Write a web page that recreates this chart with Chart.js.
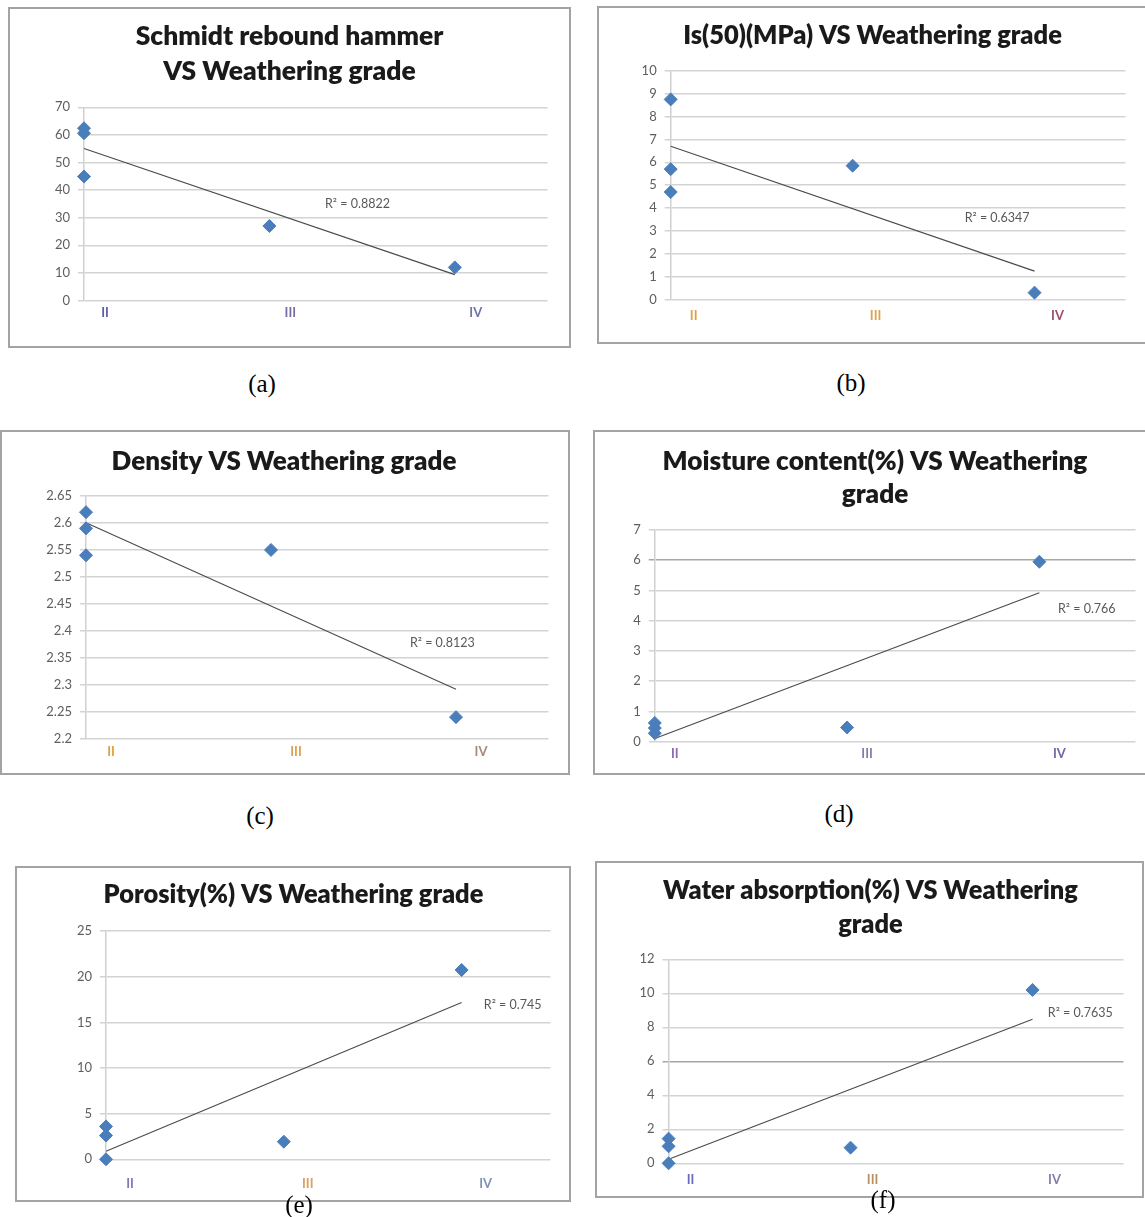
<!DOCTYPE html>
<html><head><meta charset="utf-8">
<script src="https://cdn.jsdelivr.net/npm/chart.js@4.4.1/dist/chart.umd.min.js"></script>
<style>
html,body{margin:0;padding:0;background:#fff;}
body{width:1145px;height:1217px;position:relative;overflow:hidden;}
.box{position:absolute;border:2px solid #a3a3a3;box-sizing:border-box;background:#fff;}
canvas{position:absolute;}
.cap{position:absolute;font-family:"Liberation Serif","Times New Roman",serif;font-size:25px;color:#000;transform:translate(-50%,-50%);white-space:nowrap;line-height:1;z-index:5;}
</style></head><body>
<script>
// ---------- DATA ----------
const grades = ['II', 'II', 'II', 'III', 'IV'];
const gradeTickValues = [2, 3, 4];
const gradeTickLabels = ['II', 'III', 'IV'];

const schmidtRebound = [62.4, 60.6, 44.9, 27.0, 12.0];
const is50MPa = [8.75, 5.7, 4.7, 5.85, 0.3];
const density = [2.62, 2.59, 2.54, 2.55, 2.24];
const moistureContent = [0.62, 0.45, 0.28, 0.47, 5.95];
const porosity = [3.6, 2.6, 0.0, 1.93, 20.73];
const waterAbsorption = [1.45, 1.0, 0.0, 0.92, 10.2];

const ticksSchmidt = [0, 10, 20, 30, 40, 50, 60, 70];
const ticksIs50 = [0, 1, 2, 3, 4, 5, 6, 7, 8, 9, 10];
const ticksDensity = [2.2, 2.25, 2.3, 2.35, 2.4, 2.45, 2.5, 2.55, 2.6, 2.65];
const ticksMoisture = [0, 1, 2, 3, 4, 5, 6, 7];
const ticksPorosity = [0, 5, 10, 15, 20, 25];
const ticksWater = [0, 2, 4, 6, 8, 10, 12];

const titleSchmidt = ['Schmidt rebound hammer', 'VS Weathering grade'];
const titleIs50 = ['Is(50)(MPa) VS Weathering grade'];
const titleDensity = ['Density VS Weathering grade'];
const titleMoisture = ['Moisture content(%) VS Weathering', 'grade'];
const titlePorosity = ['Porosity(%) VS Weathering grade'];
const titleWater = ['Water absorption(%) VS Weathering', 'grade'];

const r2Texts = ['R² = 0.8822', 'R² = 0.6347', 'R² = 0.8123', 'R² = 0.766', 'R² = 0.745', 'R² = 0.7635'];
const captions = ['(a)', '(b)', '(c)', '(d)', '(e)', '(f)'];

// ---------- LAYOUT / STYLE ----------
const gradeNumber = {II: 2, III: 3, IV: 4};
const xRange = [2, 4.5];
const panels = [
  {title: titleSchmidt, values: schmidtRebound, yTicks: ticksSchmidt, r2: r2Texts[0], caption: captions[0],
   box: [8, 7, 563, 341], plot: {l: 84, r: 551.5, t: 107.3, b: 300.5}, titleX: 289, titleY: 36.7, lineH: 35, titleW: 308,
   xLabelPad: 5, labelOffset: 21, r2At: [3.30, 35.0], tickColors: ['#5b5ea6', '#7c6aa3', '#6f74ad'], cap: [262, 383], gridDark: []},
  {title: titleIs50, values: is50MPa, yTicks: ticksIs50, r2: r2Texts[1], caption: captions[1],
   box: [597, 6, 560, 338], plot: {l: 670.7, r: 1130.7, t: 70.8, b: 299.5}, titleX: 873, titleY: 36, lineH: 32, titleW: 379,
   xLabelPad: 8.7, labelOffset: 23, r2At: [3.616, 3.55], tickColors: ['#e0a040', '#e0a24c', '#9b4e6a'], cap: [851, 382], gridDark: []},
  {title: titleDensity, values: density, yTicks: ticksDensity, r2: r2Texts[2], caption: captions[2],
   box: [0, 430, 570, 345], plot: {l: 86, r: 552.8, t: 496, b: 738.7}, titleX: 284, titleY: 462, lineH: 32, titleW: 345,
   xLabelPad: 5.8, labelOffset: 25, r2At: [3.751, 2.378], tickColors: ['#e0a040', '#d9a050', '#a88a7a'], cap: [260, 815], gridDark: []},
  {title: titleMoisture, values: moistureContent, yTicks: ticksMoisture, r2: r2Texts[3], caption: captions[3],
   box: [593, 430, 560, 345], plot: {l: 654.8, r: 1139.8, t: 530, b: 741.7}, titleX: 875, titleY: 461.7, lineH: 33.3, titleW: 425,
   xLabelPad: 4.5, labelOffset: 20, r2At: [4.097, 4.378], tickColors: ['#8a6aa8', '#8a78a8', '#6a6aa8'], cap: [839, 813], gridDark: [6]},
  {title: titlePorosity, values: porosity, yTicks: ticksPorosity, r2: r2Texts[4], caption: captions[4],
   box: [15, 866, 556, 336], plot: {l: 106, r: 554.3, t: 931, b: 1159.3}, titleX: 293, titleY: 895, lineH: 32, titleW: 380,
   xLabelPad: 16.4, labelOffset: 24, r2At: [4.125, 16.9], tickColors: ['#7a7ab8', '#d9a060', '#8090b8'], cap: [299, 1204], gridDark: []},
  {title: titleWater, values: waterAbsorption, yTicks: ticksWater, r2: r2Texts[5], caption: captions[5],
   box: [595, 861, 549, 337], plot: {l: 668.6, r: 1128.6, t: 959.3, b: 1163.3}, titleX: 871, titleY: 890.7, lineH: 34.3, titleW: 415,
   xLabelPad: 8.6, labelOffset: 22, r2At: [4.084, 8.86], tickColors: ['#6a6ab8', '#b89060', '#8a7ab0'], cap: [883, 1199], gridDark: [6]}
];

const FONT = 'Lato, "Open Sans", sans-serif';
const TITLE_WEIGHT = '800';
const measureCtx = document.createElement('canvas').getContext('2d');
function fitFontSize(text, width) {
  measureCtx.font = TITLE_WEIGHT + ' 100px ' + FONT;
  return 100 * width / measureCtx.measureText(text).width;
}

const r2Plugin = {
  id: 'r2label',
  afterDatasetsDraw(chart, args, opts) {
    const {ctx, scales} = chart;
    ctx.save();
    ctx.font = opts.font;
    ctx.fillStyle = opts.color;
    ctx.textAlign = 'left';
    ctx.textBaseline = 'middle';
    ctx.fillText(opts.text, scales.x.getPixelForValue(opts.at[0]), scales.y.getPixelForValue(opts.at[1]));
    ctx.restore();
  }
};

function linearFit(xs, ys) {
  const n = xs.length;
  const mx = xs.reduce((a, b) => a + b, 0) / n;
  const my = ys.reduce((a, b) => a + b, 0) / n;
  let sxy = 0, sxx = 0;
  for (let i = 0; i < n; i++) { sxy += (xs[i] - mx) * (ys[i] - my); sxx += (xs[i] - mx) ** 2; }
  const slope = sxy / sxx;
  return x => my + slope * (x - mx);
}

function buildPanel(p) {
  const box = document.createElement('div');
  box.className = 'box';
  box.style.left = p.box[0] + 'px';
  box.style.top = p.box[1] + 'px';
  box.style.width = p.box[2] + 'px';
  box.style.height = p.box[3] + 'px';
  document.body.appendChild(box);

  const canvasTop = p.box[1] + 2;
  const canvasBottom = p.box[1] + p.box[3] - 2;
  const halfW = p.plot.r - p.titleX + 3;
  const cl = Math.round(p.titleX - halfW);
  const cw = Math.round(2 * halfW);
  const pad = cl + cw - p.plot.r;
  const ch = canvasBottom - canvasTop;
  const yAxisW = p.plot.l - cl - pad;
  const xAxisH = canvasBottom - p.plot.b;
  const n = p.title.length;
  const titlePadTop = p.titleY - canvasTop - p.lineH / 2;
  const titlePadBottom = p.plot.t - canvasTop - titlePadTop - n * p.lineH;

  const cv = document.createElement('canvas');
  cv.width = cw; cv.height = ch;
  cv.style.left = cl + 'px'; cv.style.top = canvasTop + 'px';
  cv.style.width = cw + 'px'; cv.style.height = ch + 'px';
  document.body.appendChild(cv);

  const xs = grades.map(g => gradeNumber[g]);
  const pts = p.values.map((v, i) => ({x: xs[i], y: v}));
  const f = linearFit(xs, p.values);
  const xMin = Math.min(...xs), xMax = Math.max(...xs);
  const trend = [{x: xMin, y: f(xMin)}, {x: xMax, y: f(xMax)}];
  const fs = fitFontSize(p.title[0], p.titleW);

  new Chart(cv, {
    type: 'scatter',
    data: {datasets: [
      {data: pts, pointStyle: 'rectRot', pointRadius: 6.5, pointHoverRadius: 6.5, backgroundColor: '#4a7ebb', borderColor: '#4a7ebb', borderWidth: 1, clip: false, showLine: false},
      {data: trend, showLine: true, borderColor: '#4a4a4a', borderWidth: 1.1, pointRadius: 0, pointHoverRadius: 0, clip: false, fill: false}
    ]},
    options: {
      responsive: false, animation: false, devicePixelRatio: 1,
      events: [],
      layout: {padding: {left: pad, right: pad, top: 0, bottom: 0}},
      plugins: {
        legend: {display: false},
        tooltip: {enabled: false},
        title: {display: true, text: p.title, color: '#1a1a1a',
          font: {family: FONT, weight: TITLE_WEIGHT, size: fs, lineHeight: p.lineH + 'px'},
          padding: {top: titlePadTop, bottom: titlePadBottom}},
        r2label: {text: p.r2, at: p.r2At, font: '12.5px ' + FONT, color: '#595959'}
      },
      scales: {
        x: {type: 'linear', min: xRange[0], max: xRange[1],
          afterBuildTicks(s) { s.ticks = gradeTickValues.map(v => ({value: v})); },
          afterFit(s) { s.height = xAxisH; },
          grid: {display: false, drawTicks: false},
          border: {display: false},
          ticks: {autoSkip: false, callback: (v, i) => gradeTickLabels[i], labelOffset: p.labelOffset, padding: p.xLabelPad,
            color: c => p.tickColors[c.index] || '#777', font: {family: FONT, size: 13, weight: 'bold'}}
        },
        y: {type: 'linear', min: p.yTicks[0], max: p.yTicks[p.yTicks.length - 1],
          afterBuildTicks(s) { s.ticks = p.yTicks.map(v => ({value: v})); },
          afterFit(s) { s.width = yAxisW; },
          grid: {color: c => (c.tick && p.gridDark.includes(c.tick.value)) ? '#a6a6a6' : '#d3d3d3', lineWidth: 1.5, tickLength: 6, drawTicks: true},
          border: {display: true, color: '#d0d0d0', width: 1.5},
          ticks: {autoSkip: false, padding: 8, color: '#5e5e5e', font: {family: FONT, size: 13}, callback: v => String(v)}
        }
      }
    },
    plugins: [r2Plugin]
  });

  const cap = document.createElement('div');
  cap.className = 'cap';
  cap.textContent = p.caption;
  cap.style.left = p.cap[0] + 'px';
  cap.style.top = p.cap[1] + 'px';
  document.body.appendChild(cap);
}

panels.forEach(buildPanel);
</script>
</body></html>
